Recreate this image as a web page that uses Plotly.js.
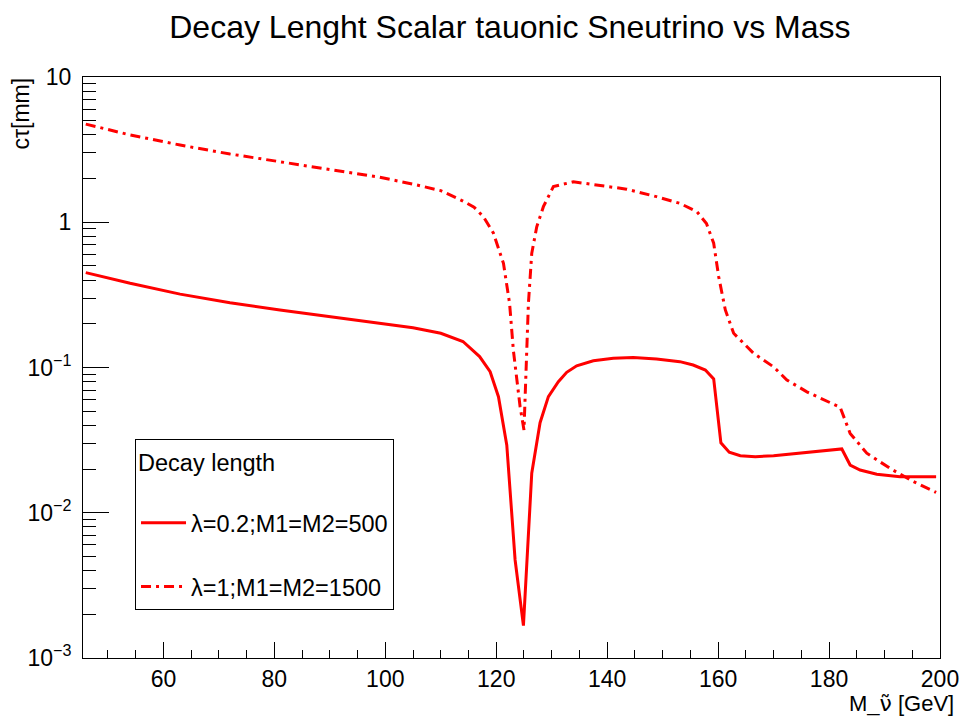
<!DOCTYPE html>
<html>
<head>
<meta charset="utf-8">
<script src="https://cdn.plot.ly/plotly-3.0.1.min.js"></script>
<style>html,body{margin:0;padding:0;background:#fff;}#chart{width:962px;height:716px;}</style>
</head>
<body>
<div id="chart"></div>
<script>
// Series A: lambda=0.2; M1=M2=500 (solid)
const massA = [46.0, 54.0, 63.0, 72.0, 81.0, 90.0, 99.0, 105.0, 110.0, 114.0, 117.0, 118.9, 120.4, 121.9, 123.4, 124.9, 126.4, 127.9, 129.4, 131.2, 132.7, 134.5, 137.5, 141.1, 144.7, 148.9, 153.1, 155.5, 157.7, 159.2, 160.5, 162.0, 164.0, 166.7, 170.0, 174.8, 179.0, 182.3, 183.8, 185.6, 188.6, 192.8, 199.3];
const ctauA = [0.450, 0.380, 0.320, 0.279, 0.249, 0.224, 0.201, 0.188, 0.172, 0.151, 0.119, 0.0935, 0.063, 0.0292, 0.00473, 0.00167, 0.0187, 0.0417, 0.063, 0.0798, 0.0926, 0.1028, 0.1113, 0.1156, 0.117, 0.1146, 0.1097, 0.104, 0.096, 0.0834, 0.0303, 0.0261, 0.0247, 0.0243, 0.0247, 0.0257, 0.0267, 0.0275, 0.0213, 0.0197, 0.0184, 0.0177, 0.0177];
// Series B: lambda=1; M1=M2=1500 (dash-dot)
const massB = [46.0, 54.0, 63.0, 72.0, 81.0, 90.0, 99.0, 105.0, 110.0, 114.0, 116.0, 117.7, 119.5, 121.3, 122.4, 123.1, 124.3, 125.0, 125.3, 125.4, 125.8, 126.4, 127.3, 128.5, 130.3, 133.9, 138.7, 143.5, 148.9, 153.1, 156.2, 157.9, 159.2, 160.1, 161.3, 162.8, 166.4, 170.0, 172.4, 176.0, 182.0, 183.8, 186.8, 191.0, 195.2, 199.3];
const ctauB = [4.74, 3.99, 3.40, 2.95, 2.61, 2.31, 2.04, 1.83, 1.65, 1.40, 1.27, 1.09, 0.84, 0.521, 0.277, 0.13, 0.0537, 0.0372, 0.0738, 0.101, 0.277, 0.611, 0.93, 1.28, 1.76, 1.90, 1.80, 1.69, 1.50, 1.35, 1.18, 0.98, 0.717, 0.422, 0.249, 0.172, 0.125, 0.101, 0.082, 0.068, 0.0532, 0.0352, 0.0257, 0.0202, 0.0164, 0.0138];

const seriesNames = ["λ=0.2;M1=M2=500", "λ=1;M1=M2=1500"];
const yDecades = [0.001, 0.01, 0.1, 1, 10];
const yDecadeLabels = ["10<sup>−3</sup>", "10<sup>−2</sup>", "10<sup>−1</sup>", "1", "10"];
const xTicks = [60, 80, 100, 120, 140, 160, 180, 200];

const yMinor = [];
for (let d = -3; d < 1; d++) { for (let k = 2; k <= 9; k++) yMinor.push(k * Math.pow(10, d)); }
const xMinor = [];
for (let v = 50; v <= 200; v += 5) if (v % 20 !== 0) xMinor.push(v);

const FONT = "Liberation Sans, Arial, Helvetica, sans-serif";

const traces = [
  {x: massA, y: ctauA, type: 'scatter', mode: 'lines', name: seriesNames[0], legendgroup: 'a',
   line: {color: '#ff0000', width: 3}},
  {x: massB, y: ctauB, type: 'scatter', mode: 'lines', name: seriesNames[1], legendgroup: 'b',
   line: {color: '#ff0000', width: 3, dash: '10px,5px,3px,5px'}}
];

const layout = {
  width: 962, height: 716,
  margin: {l: 83, r: 22, t: 77, b: 58, pad: 0},
  paper_bgcolor: '#fff', plot_bgcolor: '#fff',
  font: {family: FONT, color: '#000', size: 23},
  title: {text: 'Decay Lenght Scalar tauonic Sneutrino vs Mass', font: {family: FONT, size: 32, color: '#000'},
          x: 0.53, xanchor: 'center', y: 0.962, yanchor: 'middle'},
  showlegend: true,
  legend: {x: 0.0607, y: 0.377, xanchor: 'left', yanchor: 'top',
           bordercolor: '#000', borderwidth: 1, bgcolor: '#fff',
           font: {family: FONT, size: 23.5, color: '#000'},
           title: {text: 'Decay length<br> ', font: {family: FONT, size: 23.5, color: '#000'}},
           tracegroupgap: 30, itemwidth: 45},
  xaxis: {range: [45.5, 200], showgrid: false, zeroline: false,
          showline: true, linecolor: '#000', linewidth: 1, mirror: true,
          ticks: 'inside', ticklen: 16, tickwidth: 1, tickcolor: '#000',
          tickmode: 'array', tickvals: xTicks, ticktext: xTicks.map(String),
          tickfont: {family: FONT, size: 23, color: '#000'},
          minor: {ticks: 'inside', ticklen: 8, tickwidth: 1, tickcolor: '#000', tickmode: 'array', tickvals: xMinor, showgrid: false}},
  yaxis: {type: 'log', range: [-3, 1], showgrid: false, zeroline: false,
          showline: true, linecolor: '#000', linewidth: 1, mirror: true,
          ticks: 'inside', ticklen: 26, tickwidth: 1, tickcolor: '#000',
          tickmode: 'array', tickvals: yDecades, ticktext: yDecadeLabels, ticklabelstandoff: 6,
          tickfont: {family: FONT, size: 23, color: '#000'},
          minor: {ticks: 'inside', ticklen: 13, tickwidth: 1, tickcolor: '#000', tickmode: 'array', tickvals: yMinor, showgrid: false}},
  annotations: [
    {text: 'cτ[mm]', xref: 'paper', yref: 'paper', x: -0.072, y: 1.003, xanchor: 'center', yanchor: 'top',
     textangle: -90, showarrow: false, font: {family: FONT, size: 23, color: '#000'}},
    {text: 'M_<span style="font-family:DejaVu Sans">ν̃</span> [GeV]', xref: 'paper', yref: 'paper', x: 1.019, y: -0.078, xanchor: 'right', yanchor: 'middle',
     showarrow: false, font: {family: FONT, size: 22, color: '#000'}}
  ]
};

Plotly.newPlot('chart', traces, layout, {displayModeBar: false, staticPlot: true});
</script>
</body>
</html>
